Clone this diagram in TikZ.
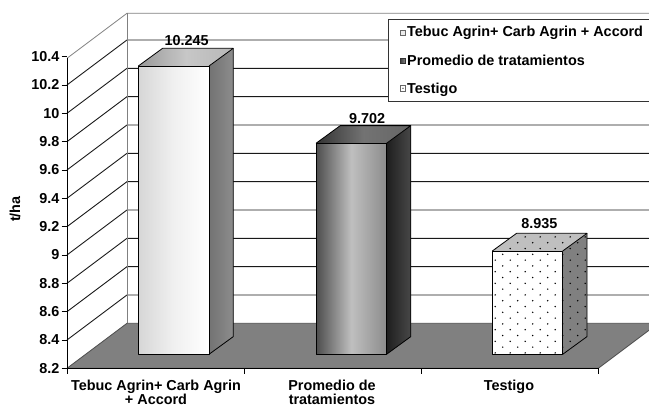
\documentclass[tikz,border=0pt]{standalone}
\usepackage{fontspec}
\setmainfont{Liberation Sans}
\definecolor{floorgray}{RGB}{128,128,128}
\newcommand\drawbar[6]{%
  \path[#4] (#1,#3) rectangle (#2,354.3);
  \path[#5] (#2,#3) -- ++(24.3,-17.7) -- (#2+24.3,336.6) -- (#2,354.3) -- cycle;
  \path[#6] (#1,#3) -- ++(24.3,-17.7) -- ++(#2-#1,0) -- (#2,#3) -- cycle;
}
\newcommand\edgebar[3]{%
  \draw[baredge] (#1,354.3) rectangle (#2,#3);
  \draw[baredge] (#1,#3) -- ++(24.3,-17.7) -- ++(#2-#1,0) -- (#2,#3);
  \draw[baredge] (#2+24.3,#3-17.7) -- (#2+24.3,336.6) -- (#2,354.3);
}
\begin{document}
\begin{tikzpicture}[x=1pt,y=-1pt,
  lbl/.style={font=\fontsize{14.4}{17}\selectfont\bfseries, inner sep=0pt},
  gridline/.style={draw=black!90, line width=0.9pt},
  walledge/.style={draw=black!50, line width=0.8pt},
  baredge/.style={draw=black, line width=0.8pt, line join=round},
  axisline/.style={draw=black, line width=0.9pt}]
\useasboundingbox (0,0) rectangle (649,408);
\begin{scope}
\clip (0,0) rectangle (649,408);
\coordinate (FL) at (67,368.3);
\coordinate (BL) at (127,323.3);
\coordinate (FLT) at (67,58.3);
\coordinate (BLT) at (127,13.3);
\coordinate (FR) at (598.3,368.3);
\coordinate (BR) at (658.3,323.3);
\coordinate (BRT) at (700,13.3);
% gridlines on walls
\foreach \i in {1,...,10}{
  \pgfmathsetmacro{\yf}{368.3-28.333*\i}
  \pgfmathsetmacro{\yb}{\yf-45}
  \draw[gridline] (67,\yf) -- (127,\yb) -- (700,\yb);
}
\draw[walledge] (FLT) -- (BLT) -- (BRT);
\draw[walledge] (BLT) -- (BL);
% floor
\filldraw[fill=floorgray, draw=black!70, line width=0.8pt] (FL) -- (BL) -- (BR) -- (FR) -- cycle;
% axes
\draw[axisline] (FLT) -- (FL) -- (FR);
\foreach \x in {67,244,421,598.3}{
  \draw[axisline] (\x,368.3) -- (\x,373.5);
}
\foreach \v/\i in {8.2/0,8.4/1,8.6/2,8.8/3,9/4,9.2/5,9.4/6,9.6/7,9.8/8,10/9,10.2/10,10.4/11}{
  \pgfmathsetmacro{\yf}{368.3-28.333*\i}
  \draw[axisline] (61.7,\yf) -- (67,\yf);
  \node[lbl, anchor=east] (ylab\i) at (59.5,\yf) {\v};
}
% bar 1
\drawbar{138.3}{209}{66}{left color=black!16, right color=white, middle color=black!6}{left color=black!55, right color=black!45}{left color=black!40, right color=black!28, middle color=black!22}
\edgebar{138.3}{209}{66}
% bar 2
\drawbar{316}{386.5}{143.3}{left color=black!70, right color=black!45, middle color=black!25}{left color=black!88, right color=black!72}{left color=black!80, right color=black!60, middle color=black!55}
\edgebar{316}{386.5}{143.3}
% bar 3 (dotted)
\drawbar{492.3}{562.7}{251}{fill=white}{fill=black!50}{fill=black!25}
\begin{scope}
  \clip (492.3,354.3) -- (492.3,251) -- (516.6,233.3) -- (587,233.3) -- (587,336.6) -- (562.7,354.3) -- cycle;
  \foreach \r in {0,...,22}{
    \pgfmathsetmacro{\yy}{254.3+5.8*(\r-4)}
    \pgfmathsetmacro{\xo}{isodd(\r) ? 495.2 : 502.7}
    \foreach \k in {-1,...,6}{
      \fill[black] (\xo+15*\k,\yy) circle[radius=0.8pt];
    }
  }
\end{scope}
\edgebar{492.3}{562.7}{251}
% value labels
\node[lbl, anchor=base] (v1) at (186.7,45) {10.245};
\node[lbl, anchor=base] (v2) at (367.2,123.3) {9.702};
\node[lbl, anchor=base] (v3) at (539.3,228.3) {8.935};
% legend
\draw[draw=black!80, fill=white, line width=0.8pt] (388,19) rectangle (670,101);
\draw[black!60, line width=0.6pt, fill=black!8] (400.3,29.8) rectangle (405.7,35.2);
\draw[black!80, line width=0.6pt, left color=black!75, right color=black!45] (400.3,58) rectangle (405.7,63.4);
\draw[black!60, line width=0.6pt, fill=white] (400.3,85.6) rectangle (405.7,91);
\fill[black] (403,88.3) circle[radius=0.6pt];
\node[lbl, anchor=base west] (l1) at (407,36.7) {Tebuc Agrin+ Carb Agrin + Accord};
\node[lbl, anchor=base west] (l2) at (407,65) {Promedio de tratamientos};
\node[lbl, anchor=base west] (l3) at (407,93.3) {Testigo};
% category labels
\node[lbl, anchor=base] (c1a) at (156,390.5) {Tebuc Agrin+ Carb Agrin};
\node[lbl, anchor=base] (c1b) at (156,404.5) {+ Accord};
\node[lbl, anchor=base] (c2a) at (332,390.5) {Promedio de};
\node[lbl, anchor=base] (c2b) at (332,404.5) {tratamientos};
\node[lbl, anchor=base] (c3a) at (509,390.5) {Testigo};
% axis title
\node[lbl, rotate=90] (ytitle) at (15,209) {t/ha};
\end{scope}
\end{tikzpicture}
\end{document}
